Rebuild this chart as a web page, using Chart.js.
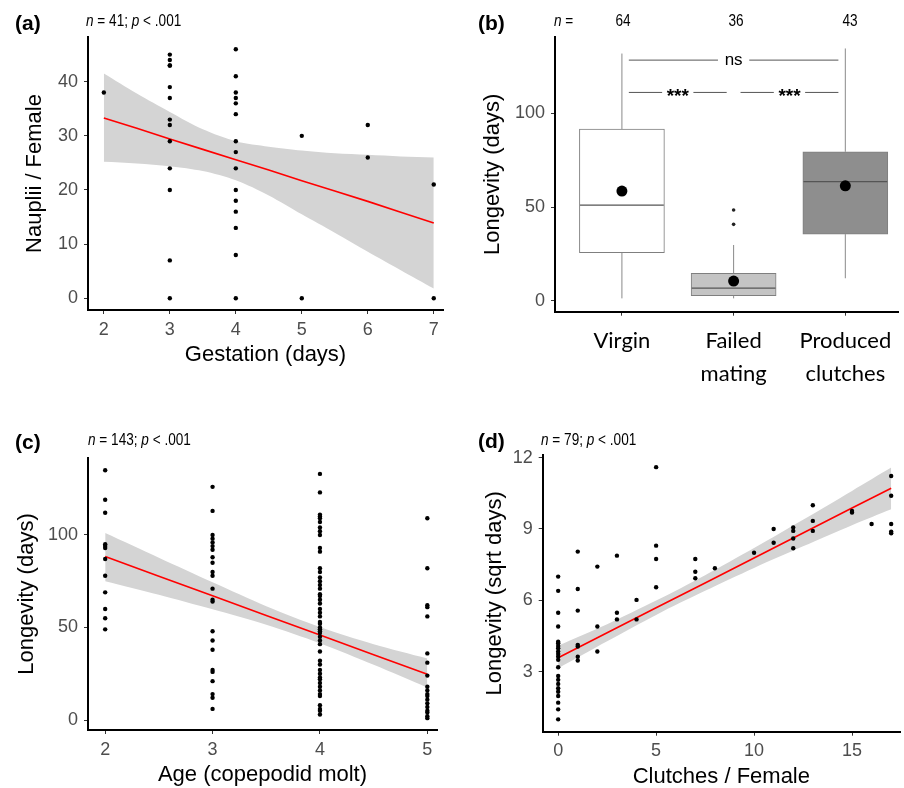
<!DOCTYPE html>
<html>
<head>
<meta charset="utf-8">
<script src="https://cdn.jsdelivr.net/npm/chart.js@4.4.1/dist/chart.umd.min.js"></script>
<style>
  body { margin: 0; background: #fff; width: 904px; height: 788px; position: relative; overflow: hidden; font-family: 'Liberation Sans', Arial, sans-serif; }
  canvas { position: absolute; }
  .lbl { position: absolute; line-height: 1; white-space: nowrap; color: #000; }
  .tag { font-weight: bold; font-size: 21px; }
  .note { font-size: 16px; transform: scaleX(0.85); transform-origin: left top; }
  .c { transform: translateX(-50%) scaleX(0.85); transform-origin: center top; }
</style>
</head>
<body>
<canvas id="pa" width="450" height="395" style="left:0;top:0"></canvas>
<canvas id="pb" width="454" height="395" style="left:450px;top:0"></canvas>
<canvas id="pc" width="450" height="388" style="left:0;top:400px"></canvas>
<canvas id="pd" width="454" height="388" style="left:450px;top:400px"></canvas>

<div class="lbl tag" style="left:15px;top:12px">(a)</div>
<div class="lbl note" style="left:86px;top:13px"><i>n</i> = 41; <i>p</i> &lt; .001</div>
<div class="lbl tag" style="left:478px;top:12px">(b)</div>
<div class="lbl note" style="left:554px;top:13px"><i>n</i> =</div>
<div class="lbl note c" style="left:623px;top:13px">64</div>
<div class="lbl note c" style="left:736px;top:13px">36</div>
<div class="lbl note c" style="left:850px;top:13px">43</div>
<div class="lbl tag" style="left:15px;top:431px">(c)</div>
<div class="lbl note" style="left:88px;top:432px"><i>n</i> = 143; <i>p</i> &lt; .001</div>
<div class="lbl tag" style="left:478px;top:430px">(d)</div>
<div class="lbl note" style="left:541px;top:432px"><i>n</i> = 79; <i>p</i> &lt; .001</div>

<script>
// (a) nauplii per female vs gestation time
const aGestation = [2, 3,3,3,3,3,3,3,3,3,3,3,3,3, 4,4,4,4,4,4,4,4,4,4,4,4,4,4,4, 5,5, 6,6, 7,7];
const aNauplii   = [38, 45,44,43,43,39,37,33,32,29,24,20,7,0, 46,41,38,37,36,34,29,27,24,20,18,16,13,8,0, 30,0, 32,26, 21,0];
const aFitX  = [2, 2.5, 3, 3.5, 4, 4.5, 5, 5.5, 6, 6.5, 7];
const aFit   = [33.3, 31.4, 29.4, 27.5, 25.6, 23.7, 21.7, 19.8, 17.9, 15.9, 13.9];
const aUpper = [41.5, 37.8, 34.4, 31.2, 29.0, 28.0, 27.3, 26.8, 26.5, 26.2, 26.0];
const aLower = [25.2, 24.9, 24.4, 23.5, 21.8, 19.0, 15.5, 12.1, 8.6, 5.2, 1.8];
const aXTicks = [2, 3, 4, 5, 6, 7];
const aYTicks = [0, 10, 20, 30, 40];

// (b) longevity by mating outcome (box summaries)
const bGroups  = ['Virgin', ['Failed', 'mating'], ['Produced', 'clutches']];
const bMin     = [1.4, 1.4, 12.1];
const bQ1      = [25.7, 2.8, 35.6];
const bMedian  = [51.0, 6.8, 63.5];
const bQ3      = [91.5, 14.7, 79.4];
const bMax     = [131.7, 29.8, 134.4];
const bMean    = [58.5, 10.6, 61.3];
const bOutX    = [2, 2];
const bOutY    = [48.4, 40.8];
const bSigFrom = [1, 1, 2];
const bSigTo   = [3, 2, 3];
const bSigY    = [128.2, 111, 111];
const bSigLabel = ['ns', '***', '***'];
const bYTicks  = [0, 50, 100];

// (c) longevity vs age at mating
const cAges = [2, 3, 4, 5];
const cLongevity = [
  [135,119,112,95,94,93,87,78,69,60,55,49],
  [126,113,100,98,96,94,92,88,85,80,78,71,65,64,48,43,38,27,26,21,14,12,6],
  [133,123,111,110,109,107,104,102,100,93,91,82,80,77,75,73,71,68,67,65,63,60,58,56,53,52,50,49,48,47,45,43,41,37,32,30,27,25,23,22,20,18,16,14,13,8,6,5,3],
  [109,82,62,61,56,36,31,24,18,16,14,13,11,9,7,5,4,2,1]
];
const cFitX  = [2, 2.5, 3, 3.5, 4, 4.5, 5];
const cFit   = [88.3, 77.7, 67.1, 56.5, 45.9, 35.3, 24.7];
const cUpper = [101, 87.7, 74.4, 61.5, 50.3, 41.0, 33.3];
const cLower = [75, 67.7, 59.8, 51.5, 41.5, 29.8, 17.5];
const cXTicks = [2, 3, 4, 5];
const cYTicks = [0, 50, 100];

// (d) sqrt longevity vs clutches per female
const dClutches = [0, 1, 2, 3, 4, 5, 7, 8, 10, 11, 12, 13, 15, 16, 17];
const dSqrtDays = [
  [7.0,6.4,5.48,4.9,4.26,4.2,4.08,3.99,3.85,3.75,3.63,3.5,3.19,2.82,2.66,2.49,2.31,2.16,1.98,1.7,1.42,1.0],
  [8.05,6.48,5.57,4.13,4.06,3.63,3.47],
  [7.42,4.9,3.85],
  [7.88,5.48,5.2],
  [6.02,5.2],
  [11.6,8.3,7.74,6.55],
  [7.74,7.2,6.93],
  [7.35],
  [8.0],
  [9.0,8.42],
  [9.06,8.92,8.6,8.19],
  [10.0,9.34,8.92],
  [9.76,9.69],
  [9.21],
  [11.23,10.4,9.21,8.89,8.82]
];
const dFitX  = [0, 2.5, 5, 7.5, 10, 12.5, 15, 17];
const dFit   = [3.59, 4.64, 5.69, 6.73, 7.78, 8.83, 9.88, 10.71];
const dUpper = [4.1, 5.0, 5.99, 7.06, 8.2, 9.39, 10.6, 11.58];
const dLower = [3.15, 4.28, 5.39, 6.4, 7.36, 8.27, 9.16, 9.83];
const dXTicks = [0, 5, 10, 15];
const dYTicks = [3, 6, 9, 12];

Chart.defaults.font.family = "'Liberation Sans', Arial, sans-serif";
Chart.defaults.animation = false;

const pts = (xs, ys) => xs.map((x, i) => ({ x, y: ys[i] }));
const grouped = (xs, groups) => xs.flatMap((x, i) => groups[i].map(y => ({ x, y })));

// axis in ggplot "classic" look; p gives the panel box and plot area in page pixels
function scale(p, axis, min, max, ticks, title, tpad, lh) {
  return {
    type: 'linear', min, max, offset: false,
    afterBuildTicks: sc => { sc.ticks = ticks.map(v => ({ value: v })); },
    afterFit: sc => {
      if (axis === 'x') sc.height = p.top + p.h - p.y1; else sc.width = p.x0 - p.left;
      sc.paddingLeft = sc.paddingRight = sc.paddingTop = sc.paddingBottom = 0;
    },
    grid: { drawOnChartArea: false, offset: false, tickLength: 4, color: '#333', lineWidth: 1 },
    border: { color: '#000', width: 2 },
    ticks: { color: '#4d4d4d', font: { size: 18 }, padding: axis === 'x' ? 5 : 6, maxRotation: 0, autoSkip: false },
    title: { display: !!title, text: title, color: '#000', font: { size: 22, lineHeight: lh || 1.2 },
      padding: axis === 'x' ? { top: 0, bottom: tpad } : { top: tpad, bottom: 0 } }
  };
}

function layout(p) {
  return { padding: { left: 0, bottom: 0, top: p.y0 - p.top, right: p.left + p.w - p.x1 } };
}

const baseOpts = { responsive: false, plugins: { legend: { display: false }, tooltip: { enabled: false } } };

function fitChart(id, p, dots, fx, fy, up, lo, xr, yr, xt, yt, xTitle, yTitle, xpad, ypad, xlh) {
  new Chart(document.getElementById(id), {
    type: 'scatter',
    data: {
      datasets: [
        { data: dots, pointRadius: 2.2, pointBackgroundColor: '#000', pointBorderWidth: 0, order: 0 },
        { data: pts(fx, fy), showLine: true, borderColor: '#ff0000', borderWidth: 1.6, pointRadius: 0, order: 1 },
        { data: pts(fx, up), showLine: true, borderWidth: 0, pointRadius: 0, backgroundColor: '#d4d4d4', fill: '+1', tension: 0.3, order: 2 },
        { data: pts(fx, lo), showLine: true, borderWidth: 0, pointRadius: 0, tension: 0.3, order: 3 }
      ]
    },
    options: Object.assign({}, baseOpts, {
      layout: layout(p),
      scales: {
        x: scale(p, 'x', xr[0], xr[1], xt, xTitle, xpad, xlh),
        y: scale(p, 'y', yr[0], yr[1], yt, yTitle, ypad)
      }
    })
  });
}

const pa = { left: 0, top: 0, w: 450, h: 395, x0: 88, y0: 37, x1: 443, y1: 310 };
const pb = { left: 450, top: 0, w: 454, h: 395, x0: 555, y0: 37, x1: 904, y1: 311.7 };
const pc = { left: 0, top: 400, w: 450, h: 388, x0: 88, y0: 458, x1: 437, y1: 730 };
const pd = { left: 450, top: 400, w: 454, h: 388, x0: 542.7, y0: 455, x1: 904, y1: 731.7 };

fitChart('pa', pa, pts(aGestation, aNauplii), aFitX, aFit, aUpper, aLower,
  [1.76, 7.14], [-2.16, 48.25], aXTicks, aYTicks, 'Gestation (days)', 'Nauplii / Female', 27, 22);
fitChart('pc', pc, grouped(cAges, cLongevity), cFitX, cFit, cUpper, cLower,
  [1.84, 5.09], [-5.4, 141.6], cXTicks, cYTicks, 'Age (copepodid molt)', 'Longevity (days)', 0, 14);
fitChart('pd', pd, grouped(dClutches, dSqrtDays), dFitX, dFit, dUpper, dLower,
  [-0.79, 17.45], [0.48, 12.11], dXTicks, dYTicks, 'Clutches / Female', 'Longevity (sqrt days)', 0, 32, 1);

// (b) box plot from floating bars + line segments
const gx = bGroups.map((g, i) => i + 1);
const whiskers = gx.flatMap((x, i) => [
  { x, y: bQ3[i] }, { x, y: bMax[i] }, { x, y: null },
  { x, y: bMin[i] }, { x, y: bQ1[i] }, { x, y: null }
]);
const medians = gx.flatMap((x, i) => [{ x: x - 0.375, y: bMedian[i] }, { x: x + 0.375, y: bMedian[i] }, { x, y: null }]);
const sigSegs = bSigY.flatMap((yv, i) => {
  const a = bSigFrom[i] + 0.062, b = bSigTo[i] - 0.062, m = (bSigFrom[i] + bSigTo[i]) / 2, g = 0.14;
  return [{ x: a, y: yv }, { x: m - g, y: yv }, { x: m, y: null }, { x: m + g, y: yv }, { x: b, y: yv }, { x: b, y: null }];
});

const sigText = {
  id: 'sigText',
  afterDatasetsDraw(chart) {
    const { ctx, scales: { x, y } } = chart;
    ctx.save();
    ctx.fillStyle = '#000';
    ctx.textAlign = 'center';
    ctx.textBaseline = 'middle';
    bSigLabel.forEach((t, i) => {
      ctx.font = t === 'ns' ? "17px 'Liberation Sans'" : "bold 19px 'Liberation Sans'";
      ctx.fillText(t, x.getPixelForValue((bSigFrom[i] + bSigTo[i]) / 2), y.getPixelForValue(bSigY[i]) + (t === 'ns' ? 0 : 4));
    });
    ctx.restore();
  }
};

const bx = scale(pb, 'x', 0.401, 3.476, gx, '', 0);
bx.ticks = { color: '#000', font: { family: 'Lato', size: 22, lineHeight: 1.5 }, padding: 9, maxRotation: 0, autoSkip: false,
  callback: v => bGroups[v - 1] };

new Chart(document.getElementById('pb'), {
  type: 'bar',
  data: {
    datasets: [
      { type: 'scatter', data: pts(gx, bMean), pointRadius: 5.5, pointBackgroundColor: '#000', pointBorderWidth: 0, order: 0 },
      { type: 'scatter', data: pts(bOutX, bOutY), pointRadius: 1.8, pointBackgroundColor: '#222', pointBorderWidth: 0, order: 0 },
      { type: 'line', data: medians, borderColor: '#555', borderWidth: 1.3, pointRadius: 0, spanGaps: false, order: 1 },
      { type: 'line', data: whiskers, borderColor: '#8a8a8a', borderWidth: 1, pointRadius: 0, spanGaps: false, order: 1 },
      { type: 'line', data: sigSegs, borderColor: '#555', borderWidth: 1, pointRadius: 0, spanGaps: false, order: 1 },
      { type: 'bar', data: gx.map((x, i) => ({ x, y: [bQ1[i], bQ3[i]] })), barThickness: 85,
        backgroundColor: ['#ffffff', '#c4c4c4', '#8e8e8e'], borderColor: '#7f7f7f', borderWidth: 1, borderSkipped: false, order: 3 }
    ]
  },
  options: Object.assign({}, baseOpts, {
    layout: layout(pb),
    scales: {
      x: bx,
      y: scale(pb, 'y', -5.7, 140.5, bYTicks, 'Longevity (days)', 30)
    }
  }),
  plugins: [sigText]
});
</script>
</body>
</html>
